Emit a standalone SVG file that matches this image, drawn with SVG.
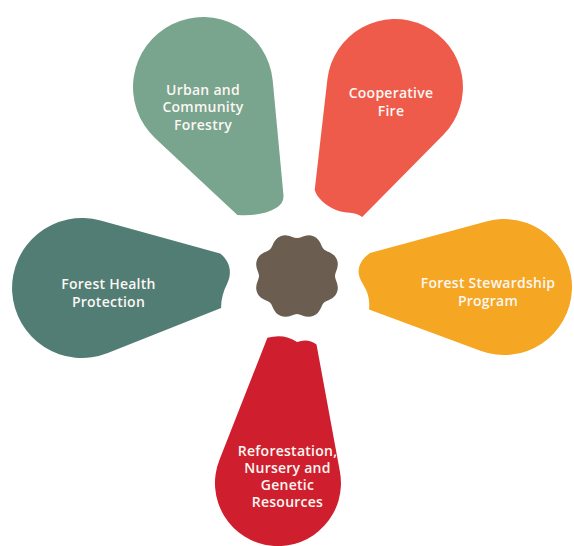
<svg xmlns="http://www.w3.org/2000/svg" width="574" height="546" viewBox="0 0 574 546">
  <style>
    .label { font-family: "Open Sans", Lato, "Liberation Sans", sans-serif; font-weight: 600; font-size: 14px; letter-spacing: 0.25px; fill: #fbf7f2; text-anchor: middle; }
  </style>
  <rect width="574" height="546" fill="#ffffff"/>

  <!-- Urban and Community Forestry -->
  <g id="petal-urban">
    <path fill="#79a48e" d="M283.4,194.3 L272.7,80.4 A70,70 0 1 0 155.2,138.2 L237.4,214.9 C252,216 266,214 276,208 C281,205 284,201 283.4,194.3 Z"/>
    <text class="label" x="203" y="94.5">Urban and</text>
    <text class="label" x="203" y="112">Community</text>
    <text class="label" x="203" y="129.5">Forestry</text>
  </g>

  <!-- Cooperative Fire -->
  <g id="petal-fire">
    <path fill="#ef5b4b" d="M362.2,217 L443.4,134.8 A68,68 0 1 0 327.4,79.3 L314.7,190 C317,198 326,206 336,210 S355,211 362.2,217 Z"/>
    <text class="label" x="391" y="97.5">Cooperative</text>
    <text class="label" x="391" y="115.5">Fire</text>
  </g>

  <!-- Forest Stewardship Program -->
  <g id="petal-stewardship">
    <path fill="#f5a623" d="M369,309.6 L480.4,350.8 A68,68 0 1 0 486.2,221.4 L370,252.9 C363,258 357,266 359,275 C361,285 371,290 369,309.6 Z"/>
    <text class="label" x="488" y="288">Forest Stewardship</text>
    <text class="label" x="488" y="305.5">Program</text>
  </g>

  <!-- Reforestation, Nursery and Genetic Resources -->
  <g id="petal-reforestation">
    <path fill="#cf1f2e" d="M267.4,337.8 L219.4,459.9 A63,63 0 1 0 339.9,471.5 L316.5,344.5 Q308,338 297,342 Q284,333 267.4,337.8 Z"/>
    <text class="label" x="287.5" y="455.5">Reforestation,</text>
    <text class="label" x="287.5" y="473">Nursery and</text>
    <text class="label" x="287.5" y="490.2">Genetic</text>
    <text class="label" x="287.5" y="507.4">Resources</text>
  </g>

  <!-- Forest Health Protection -->
  <g id="petal-health">
    <path fill="#517d75" d="M220.1,253.4 L100.6,220.5 A70,70 0 1 0 107.8,353.1 L221.1,308.1 C221,300 223,292 227,284 C232,274 231,262 220.1,253.4 Z"/>
    <text class="label" x="108.5" y="288.5">Forest Health</text>
    <text class="label" x="108.5" y="306.5">Protection</text>
  </g>

  <!-- central scalloped hub: eight rounded lobes around (297,276) -->
  <g id="hub">
    <path fill="#6b5d4f" transform="translate(297 276) scale(1.04) translate(-297 -276)" d="M333.5,276 C333.5,280 338.21,284.95 335.34,291.88 S325.64,298.98 322.81,301.81 S319.81,311.47 312.88,314.34 S301,312.5 297,312.5 S288.05,317.21 281.12,314.34 S274.02,304.64 271.19,301.81 S261.53,298.81 258.66,291.88 S260.5,280 260.5,276 S255.79,267.05 258.66,260.12 S268.36,253.02 271.19,250.19 S274.19,240.53 281.12,237.66 S293,239.5 297,239.5 S305.95,234.79 312.88,237.66 S319.98,247.36 322.81,250.19 S332.47,253.19 335.34,260.12 S333.5,272 333.5,276 Z"/>
  </g>
</svg>
